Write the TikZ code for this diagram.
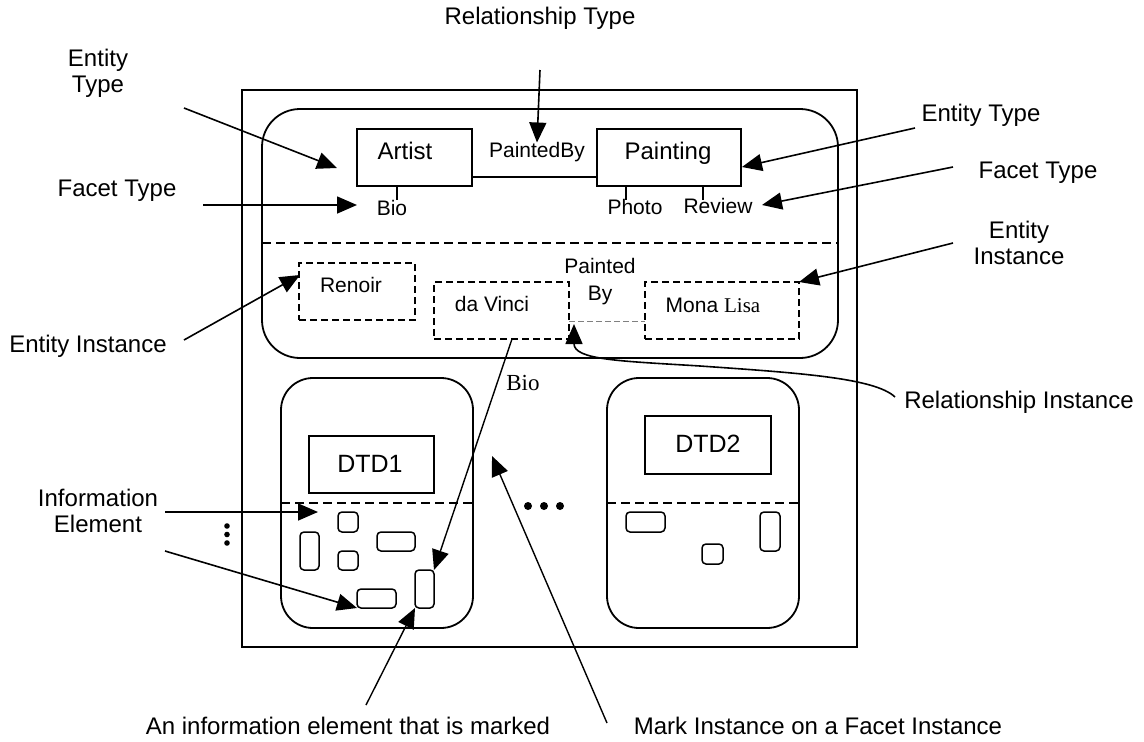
\documentclass[tikz,border=0pt]{standalone}
\usepackage{fontspec}
\setmainfont{Liberation Sans}
\newfontfamily\serifx{Liberation Serif}
\usetikzlibrary{arrows.meta,calc}
\begin{document}
\begin{tikzpicture}[x=1pt,y=-1pt,
  every node/.style={inner sep=0pt, outer sep=0pt},
  lbl/.style={font=\fontsize{24}{26}\selectfont, text height=17pt, text depth=0pt},
  lbltwo/.style={font=\fontsize{24}{26}\selectfont, align=center},
  sm/.style={font=\fontsize{21}{24}\selectfont, text height=15pt, text depth=0pt},
  dtd/.style={font=\fontsize{25}{28}\selectfont, text height=18pt, text depth=0pt},
  ln/.style={line width=1.7pt},
  arr/.style={line width=1.6pt, -{Triangle[length=20pt,width=17pt]}},
  box/.style={draw, line width=1.7pt, rectangle},
  dbox/.style={draw, line width=1.7pt, rectangle, dash pattern=on 7pt off 4pt},
  rbox/.style={draw, line width=1.8pt, rectangle, rounded corners=#1},
  ie/.style={draw, line width=1.5pt, rounded corners=4pt, rectangle},
  divider/.style={line width=1.6pt, dash pattern=on 9pt off 5pt},
]
\useasboundingbox (0,0) rectangle (1144,742);

% outer frame and groups
\node[box, minimum width=615, minimum height=557] (outer) at (549.5,368.5) {};
\node[rbox=38pt, minimum width=576, minimum height=249] (typegrp) at (550,233.5) {};
\draw[divider] (typegrp.west |- 0,243) -- (typegrp.east |- 0,243);

% entity types
\node[box, minimum width=115, minimum height=57] (artist) at (414.5,157.5) {};
\node[lbl] (artistT) at (405,151) {Artist};
\node[box, minimum width=144, minimum height=57] (painting) at (669,157.5) {};
\node[lbl] (paintingT) at (668,151) {Painting};
\coordinate (relrow) at (0,177);
\draw[ln] (artist.east |- relrow) -- (painting.west |- relrow);
\node[sm] (paintedby) at (537,150) {PaintedBy};

% facet types
\node[sm] (bioT) at (392,208) {Bio};
\node[sm] (photoT) at (635,207) {Photo};
\node[sm] (reviewT) at (718,206) {Review};
\draw[ln] (artist.south -| 397,0) -- (397,200);
\draw[ln] (painting.south -| 626,0) -- (626,200);
\draw[ln] (painting.south -| 703,0) -- (703,200);

% entity instances
\node[dbox, minimum width=116, minimum height=57] (renoir) at (357,291.5) {};
\node[sm] (renoirT) at (351,285) {Renoir};
\node[dbox, minimum width=135, minimum height=57] (davinci) at (501.5,310.5) {};
\node[sm] (davinciT) at (492,304) {da Vinci};
\node[dbox, minimum width=154, minimum height=57] (monalisa) at (722,310.5) {};
\node[sm] (monalisaT) at (713,305) {Mona {\serifx Lisa}};
\node[font=\fontsize{21}{27}\selectfont, align=center] (paintedbyI) at (600,281.5) {Painted\\By};
\coordinate (relinst) at (0,321);
\draw[gray, line width=0.9pt, dash pattern=on 6pt off 3pt] (davinci.east |- relinst) -- (monalisa.west |- relinst);

% DTD 1
\node[rbox=32pt, minimum width=192, minimum height=250] (dtdone) at (377,503) {};
\node[box, minimum width=125, minimum height=57] (dtdoneB) at (371.5,464.5) {};
\node[dtd] (dtdoneT) at (370,463) {DTD1};
\draw[divider] (dtdone.west |- 0,503) -- (dtdone.east |- 0,503);
\node[ie, minimum width=20, minimum height=20] (sqa) at (348,522) {};
\node[ie, minimum width=19, minimum height=38] (talla) at (309.5,551) {};
\node[ie, minimum width=38, minimum height=19] (widea) at (396,541.5) {};
\node[ie, minimum width=20, minimum height=19] (sqb) at (348,560.5) {};
\node[ie, minimum width=39, minimum height=19] (wideb) at (376.5,598.5) {};
\node[ie, minimum width=19, minimum height=38] (tallb) at (424.5,589) {};

% DTD 2
\node[rbox=32pt, minimum width=192, minimum height=250] (dtdtwo) at (703,503) {};
\node[box, minimum width=126, minimum height=58] (dtdtwoB) at (708,445) {};
\node[dtd] (dtdtwoT) at (708,443) {DTD2};
\draw[divider] (dtdtwo.west |- 0,503) -- (dtdtwo.east |- 0,503);
\node[ie, minimum width=39, minimum height=20] (widec) at (645.5,522) {};
\node[ie, minimum width=20, minimum height=39] (tallc) at (770,531.5) {};
\node[ie, minimum width=21, minimum height=20] (sqc) at (712.5,554) {};

% dots
\fill (227,526) circle (2.8pt);
\fill (227,534.5) circle (2.8pt);
\fill (227,543) circle (2.8pt);
\fill (528,506) circle (4pt);
\fill (544,506) circle (4pt);
\fill (560,506) circle (4pt);

% serif Bio facet instance
\node[font=\serifx\fontsize{23}{26}\selectfont, text height=16pt, text depth=0pt] (bioI) at (523,382) {Bio};

% labels
\node[lbl] (relTypeL) at (540,16) {Relationship Type};
\node[lbltwo] (entTypeL) at (98,73.5) {Entity\\Type};
\node[lbl] (facTypeL) at (117,188) {Facet Type};
\node[lbl] (entTypeR) at (981,113) {Entity Type};
\node[lbl] (facTypeR) at (1038,170) {Facet Type};
\node[lbltwo] (entInstR) at (1019,243) {Entity\\Instance};
\node[lbl] (entInstL) at (88,344) {Entity Instance};
\node[lbl] (relInstL) at (1019,400) {Relationship Instance};
\node[lbltwo] (infoElL) at (98,511) {Information\\Element};
\node[lbl] (markedL) at (348,726) {An information element that is marked};
\node[lbl] (markInstL) at (818,726) {Mark Instance on a Facet Instance};

% connector end points
\coordinate (rtS) at (540,70);
\coordinate (et1S) at (184,108);
\coordinate (et1E) at (337,168);
\coordinate (ft1S) at (203,205);
\coordinate (ft1E) at (357,205);
\coordinate (et2S) at (915,128);
\coordinate (et2E) at (742,167);
\coordinate (ft2S) at (953,167);
\coordinate (ft2E) at (762,205);
\coordinate (ei2S) at (953,243);
\coordinate (ei1S) at (184,340);
\coordinate (ei1E) at (300,275);
\coordinate (riS) at (895,397);
\coordinate (riM) at (700,366);
\coordinate (riE) at (574,324);
\coordinate (ie1S) at (165,512);
\coordinate (ie1E) at (318,512);
\coordinate (ie2S) at (165,551);
\coordinate (aieS) at (366,705);
\coordinate (miS) at (607,723);
\coordinate (miE) at (492,456);

% connectors
\draw[arr] (rtS) -- (paintedby.north);
\draw[arr] (et1S) -- (et1E);
\draw[arr] (ft1S) -- (ft1E);
\draw[arr] (et2S) -- (et2E);
\draw[arr] (ft2S) -- (ft2E);
\draw[arr] (ei2S) -- (monalisa.north east);
\draw[arr] (ei1S) -- (ei1E);
\draw[arr] (riS) .. controls (875,378) and (800,373) .. (riM) .. controls (620,361) and (574,360) .. (riE);
\draw[arr, line width=1.4pt] ($(davinci.south)+(10.5,0)$) -- (tallb.north east);
\draw[arr] (ie1S) -- (ie1E);
\draw[arr] (ie2S) -- (wideb.south west);
\draw[arr, line width=1.4pt] (aieS) -- (tallb.south west);
\draw[arr, line width=1.4pt] (miS) -- (miE);
\end{tikzpicture}
\end{document}
